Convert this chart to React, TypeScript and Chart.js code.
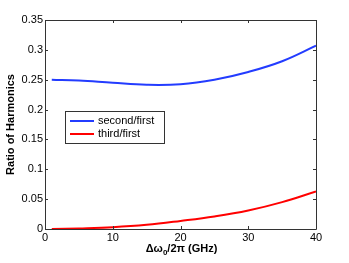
import React, { useEffect, useRef } from "react";
import { Chart, registerables } from "chart.js";

Chart.register(...registerables);

const xValues = [1, 5, 10, 15, 20, 25, 30, 35, 40];
const secondFirst = [0.25, 0.2485, 0.2448, 0.2416, 0.2425, 0.25, 0.263, 0.281, 0.307];
const thirdFirst = [0, 0.001, 0.003, 0.007, 0.0135, 0.021, 0.031, 0.045, 0.063];
const xTicks = [0, 10, 20, 30, 40];
const yTicks = [0, 0.05, 0.1, 0.15, 0.2, 0.25, 0.3, 0.35];
const seriesLabels = ["second/first", "third/first"];
const yTitle = "Ratio of Harmonics";

const FONT = "'Liberation Sans', Arial, Helvetica, sans-serif";

const boxPlugin = {
  id: "boxPlugin",
  afterDraw(chart: any) {
    const ctx = chart.ctx;
    const a = chart.chartArea;
    const xs = chart.scales.x;
    const ys = chart.scales.y;
    ctx.save();
    ctx.strokeStyle = "#333";
    ctx.lineWidth = 1;
    ctx.beginPath();
    ctx.rect(Math.round(a.left) + 0.5, Math.round(a.top) + 0.5, Math.round(a.right - a.left), Math.round(a.bottom - a.top));
    ctx.stroke();
    const tl = 3;
    ctx.beginPath();
    xs.ticks.forEach((t: any) => {
      const px = Math.round(xs.getPixelForValue(t.value)) + 0.5;
      ctx.moveTo(px, a.bottom);
      ctx.lineTo(px, a.bottom - tl);
      ctx.moveTo(px, a.top);
      ctx.lineTo(px, a.top + tl);
    });
    ys.ticks.forEach((t: any) => {
      const py = Math.round(ys.getPixelForValue(t.value)) + 0.5;
      ctx.moveTo(a.left, py);
      ctx.lineTo(a.left + tl, py);
      ctx.moveTo(a.right, py);
      ctx.lineTo(a.right - tl, py);
    });
    ctx.stroke();

    // x title with subscript
    ctx.fillStyle = "#000";
    ctx.textBaseline = "alphabetic";
    const p1 = "\u0394\u03c9";
    const sub = "0";
    const p2 = "/2\u03c0 (GHz)";
    ctx.font = "bold 11px " + FONT;
    const w1 = ctx.measureText(p1).width;
    const w3 = ctx.measureText(p2).width;
    ctx.font = "bold 8px " + FONT;
    const w2 = ctx.measureText(sub).width;
    const total = w1 + w2 + w3;
    const cx = (a.left + a.right) / 2 + 1;
    const x0 = cx - total / 2;
    const base = 252;
    ctx.font = "bold 11px " + FONT;
    ctx.fillText(p1, x0, base);
    ctx.font = "bold 8px " + FONT;
    ctx.fillText(sub, x0 + w1, base + 3);
    ctx.font = "bold 11px " + FONT;
    ctx.fillText(p2, x0 + w1 + w2, base);

    // legend
    const lx = 65, ly = 111, lw = 99, lh = 32;
    ctx.fillStyle = "#fff";
    ctx.fillRect(lx, ly, lw, lh);
    ctx.strokeStyle = "#333";
    ctx.lineWidth = 1;
    ctx.strokeRect(lx + 0.5, ly + 0.5, lw, lh);
    ctx.font = "11px " + FONT;
    ctx.textBaseline = "middle";
    chart.data.datasets.forEach((ds: any, i: number) => {
      const yy = ly + 10 + i * 13;
      ctx.strokeStyle = ds.borderColor;
      ctx.lineWidth = 2;
      ctx.beginPath();
      ctx.moveTo(lx + 5, yy);
      ctx.lineTo(lx + 29, yy);
      ctx.stroke();
      ctx.fillStyle = "#000";
      ctx.fillText(ds.label, lx + 33, yy);
    });
    ctx.restore();
  },
};

export default function App() {
  const ref = useRef<HTMLCanvasElement>(null);
  useEffect(() => {
    document.body.style.margin = "0";
    const chart = new Chart(ref.current!, {
      type: "line",
      data: {
        datasets: [
          {
            label: seriesLabels[0],
            data: xValues.map((x, i) => ({ x, y: secondFirst[i] })),
            borderColor: "rgb(35,60,255)",
            borderWidth: 2,
            pointRadius: 0,
            tension: 0.4,
          },
          {
            label: seriesLabels[1],
            data: xValues.map((x, i) => ({ x, y: thirdFirst[i] })),
            borderColor: "rgb(255,0,0)",
            borderWidth: 2,
            pointRadius: 0,
            tension: 0.4,
          },
        ],
      },
      options: {
        animation: false,
        responsive: false,
        layout: { padding: { top: 20, right: 33, left: 0, bottom: 0 } },
        plugins: { legend: { display: false }, tooltip: { enabled: false } },
        scales: {
          x: {
            type: "linear",
            min: 0,
            max: 40,
            afterBuildTicks: (s: any) => {
              s.ticks = xTicks.map((v) => ({ value: v }));
            },
            afterFit: (s: any) => {
              s.height = 34;
            },
            grid: { display: false, drawTicks: false },
            border: { display: false },
            ticks: { color: "#000", font: { family: FONT, size: 11 }, padding: 2, maxRotation: 0 },
          },
          y: {
            type: "linear",
            min: 0,
            max: 0.35,
            afterBuildTicks: (s: any) => {
              s.ticks = yTicks.map((v) => ({ value: v }));
            },
            afterFit: (s: any) => {
              s.width = 45;
            },
            grid: { display: false, drawTicks: false },
            border: { display: false },
            ticks: {
              color: "#000",
              font: { family: FONT, size: 11 },
              padding: 2,
              callback: (v: any) => String(Number(v)),
            },
            title: {
              display: true,
              text: yTitle,
              color: "#000",
              font: { family: FONT, size: 11, weight: "bold" },
              padding: { top: 4, bottom: 0 },
            },
          },
        },
      },
      plugins: [boxPlugin],
    } as any);
    return () => chart.destroy();
  }, []);
  return (
    <div style={{ width: 349, height: 263, background: "#fff" }}>
      <canvas ref={ref} width={349} height={263} />
    </div>
  );
}
